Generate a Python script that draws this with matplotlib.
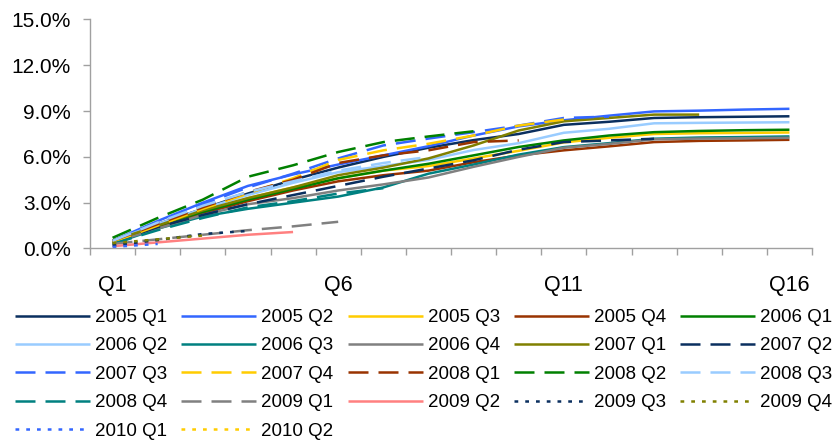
import matplotlib
matplotlib.use("Agg")
import matplotlib.pyplot as plt
from matplotlib.ticker import FuncFormatter, FixedLocator

plt.rcParams['font.family'] = ['Liberation Sans', 'DejaVu Sans']

quarters = ['Q%d' % i for i in range(1, 17)]
shown_ticks = ['Q1', 'Q6', 'Q11', 'Q16']

labels = ['2005 Q1', '2005 Q2', '2005 Q3', '2005 Q4', '2006 Q1',
          '2006 Q2', '2006 Q3', '2006 Q4', '2007 Q1', '2007 Q2',
          '2007 Q3', '2007 Q4', '2008 Q1', '2008 Q2', '2008 Q3',
          '2008 Q4', '2009 Q1', '2009 Q2', '2009 Q3', '2009 Q4',
          '2010 Q1', '2010 Q2']

# cumulative % by quarter since origination
s2005q1 = [0.5, 1.6, 2.6, 3.6, 4.5, 5.3, 6.0, 6.6, 7.1, 7.5, 8.1, 8.3, 8.55, 8.6, 8.63, 8.66]
s2005q2 = [0.5, 1.8, 3.0, 4.1, 4.85, 5.5, 6.1, 6.7, 7.4, 8.0, 8.4, 8.7, 8.98, 9.03, 9.1, 9.15]
s2005q3 = [0.4, 1.4, 2.4, 3.3, 4.0, 4.6, 5.1, 5.4, 5.9, 6.4, 6.95, 7.25, 7.5, 7.55, 7.57, 7.6]
s2005q4 = [0.4, 1.4, 2.3, 3.1, 3.8, 4.4, 4.8, 5.1, 5.65, 6.1, 6.43, 6.69, 6.97, 7.05, 7.08, 7.12]
s2006q1 = [0.5, 1.5, 2.4, 3.2, 3.9, 4.6, 5.1, 5.55, 6.1, 6.65, 7.08, 7.4, 7.62, 7.7, 7.75, 7.78]
s2006q2 = [0.5, 1.6, 2.6, 3.5, 4.3, 5.0, 5.4, 5.8, 6.45, 6.9, 7.58, 7.84, 8.2, 8.23, 8.25, 8.27]
s2006q3 = [0.3, 1.3, 2.1, 2.6, 3.0, 3.4, 4.0, 4.9, 5.5, 6.15, 6.64, 6.9, 7.19, 7.27, 7.3, 7.34]
s2006q4 = [0.4, 1.3, 2.2, 2.9, 3.3, 3.8, 4.2, 4.65, 5.35, 6.0, 6.6, 6.85, 7.15, 7.2, 7.22, 7.25]
s2007q1 = [0.5, 1.5, 2.5, 3.3, 4.0, 4.8, 5.3, 5.9, 6.75, 7.73, 8.33, 8.55, 8.77, 8.77]
s2007q2 = [0.4, 1.4, 2.2, 2.9, 3.5, 4.1, 4.7, 5.24, 5.78, 6.47, 6.97, 7.08, 7.19]
s2007q3 = [0.5, 1.7, 2.9, 4.0, 4.9, 5.9, 6.75, 7.2, 7.62, 8.05, 8.55, 8.64]
s2007q4 = [0.4, 1.5, 2.6, 3.6, 4.6, 5.8, 6.43, 6.86, 7.4, 8.05, 8.45]
s2008q1 = [0.5, 1.6, 2.7, 3.7, 4.5, 5.6, 6.1, 6.43, 6.97, 7.08]
s2008q2 = [0.7, 2.0, 3.2, 4.7, 5.45, 6.32, 6.97, 7.34, 7.68]
s2008q3 = [0.5, 1.7, 2.8, 3.7, 4.4, 5.1, 5.6, 6.0]
s2008q4 = [0.3, 1.2, 2.0, 2.7, 3.1, 3.6, 3.95]
s2009q1 = [0.3, 0.6, 0.9, 1.2, 1.45, 1.75]
s2009q2 = [0.15, 0.4, 0.65, 0.9, 1.08]
s2009q3 = [0.2, 0.55, 0.95, 1.15]
s2009q4 = [0.35, 0.6, 0.85]
s2010q1 = [0.1, 0.3]
s2010q2 = [0.2]

series = [s2005q1, s2005q2, s2005q3, s2005q4, s2006q1, s2006q2, s2006q3, s2006q4,
          s2007q1, s2007q2, s2007q3, s2007q4, s2008q1, s2008q2, s2008q3, s2008q4,
          s2009q1, s2009q2, s2009q3, s2009q4, s2010q1, s2010q2]

colors = ['#0a2f5f', '#3366ff', '#ffcc00', '#993300', '#008000',
          '#99ccff', '#008080', '#808080', '#808000', '#0a2f5f',
          '#3366ff', '#ffcc00', '#993300', '#008000', '#99ccff',
          '#008080', '#808080', '#ff8080', '#0a2f5f', '#808000',
          '#3366ff', '#ffcc00']
solid = '-'
dash = (0, (8, 4))
dot = (0, (1.5, 2.8))
styles = [solid] * 9 + [dash] * 8 + [solid] + [dot] * 4

fig = plt.figure(figsize=(8.32, 4.44), dpi=100)
ax = fig.add_axes([90 / 832, 1 - 248.5 / 444, 722 / 832, 229 / 444])

handles = []
for vals, lab, c, ls in zip(series, labels, colors, styles):
    x = list(range(1, len(vals) + 1))
    h, = ax.plot(x, vals, color=c, linestyle=ls, linewidth=1.8, label=lab,
                 solid_capstyle='butt', dash_capstyle='butt')
    handles.append(h)

ax.set_xlim(0.5, 16.5)
ax.set_ylim(0, 15)
ax.set_yticks([0, 3, 6, 9, 12, 15])
ax.yaxis.set_major_formatter(FuncFormatter(lambda v, p: '%.1f%%' % v))

pos = [quarters.index(q) + 1 for q in shown_ticks]
ax.set_xticks(pos)
ax.set_xticklabels(shown_ticks)
ax.xaxis.set_minor_locator(FixedLocator([i + 0.5 for i in range(0, 17)]))
ax.tick_params(axis='x', which='major', length=0, pad=19, labelsize=15.5)
ax.tick_params(axis='x', which='minor', length=5, width=1, color='#a0a0a0', direction='out')
ax.tick_params(axis='y', length=5, width=1, color='#a0a0a0', pad=9, labelsize=15)

for s in ['top', 'right']:
    ax.spines[s].set_visible(False)
for s in ['left', 'bottom']:
    ax.spines[s].set_color('#a0a0a0')
    ax.spines[s].set_linewidth(1)

# legend reads row by row, matplotlib fills column by column
ncol = 5
order = []
for j in range(ncol):
    order += list(range(j, len(handles), ncol))
fig.legend([handles[i] for i in order], [labels[i] for i in order],
           loc='upper left', bbox_to_anchor=(15 / 832, 1 - 309 / 444), ncol=ncol,
           frameon=False, fontsize=13.5, handlelength=4.0, handletextpad=0.27,
           columnspacing=0.75, labelspacing=0.6, borderaxespad=0, borderpad=0)

fig.savefig('out.png', dpi=100)
